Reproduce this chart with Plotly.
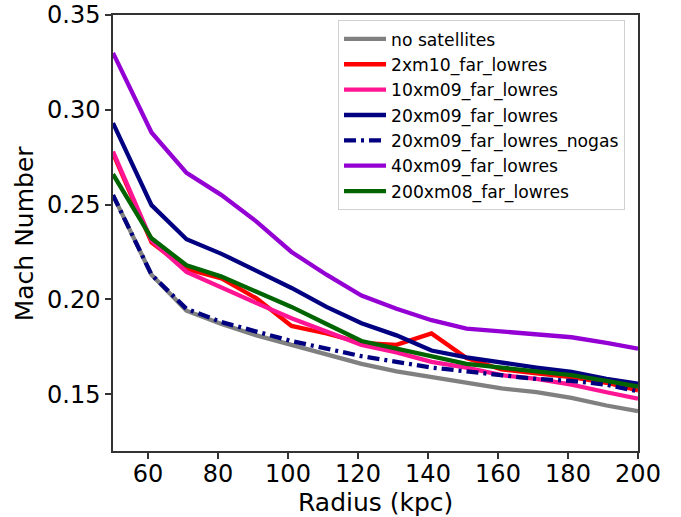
import plotly.graph_objects as go

radius = [50, 61, 71, 81, 91, 101, 111, 121, 131, 141, 151, 161, 171, 181, 191, 200]

no_sat = [0.255, 0.213, 0.194, 0.187, 0.181, 0.176, 0.171, 0.166, 0.162, 0.159, 0.156, 0.153, 0.151, 0.148, 0.144, 0.141]
m2xm10 = [0.277, 0.230, 0.216, 0.211, 0.2005, 0.186, 0.182, 0.177, 0.176, 0.182, 0.169, 0.163, 0.161, 0.159, 0.156, 0.152]
m10xm09 = [0.278, 0.231, 0.2145, 0.206, 0.198, 0.190, 0.183, 0.176, 0.172, 0.167, 0.164, 0.160, 0.158, 0.155, 0.151, 0.1476]
m20xm09 = [0.293, 0.2497, 0.2317, 0.224, 0.215, 0.206, 0.196, 0.1874, 0.181, 0.173, 0.1694, 0.1665, 0.164, 0.1617, 0.158, 0.1555]
m20xm09_nogas = [0.255, 0.213, 0.195, 0.188, 0.183, 0.178, 0.174, 0.170, 0.167, 0.164, 0.162, 0.160, 0.158, 0.157, 0.155, 0.1515]
m40xm09 = [0.330, 0.288, 0.2667, 0.255, 0.241, 0.225, 0.213, 0.202, 0.195, 0.189, 0.1846, 0.183, 0.1815, 0.180, 0.177, 0.174]
m200xm08 = [0.266, 0.2322, 0.218, 0.212, 0.204, 0.196, 0.187, 0.178, 0.174, 0.170, 0.166, 0.164, 0.162, 0.160, 0.157, 0.154]

series = [
    ("no satellites", no_sat, "#808080", "solid"),
    ("2xm10_far_lowres", m2xm10, "#FF0000", "solid"),
    ("10xm09_far_lowres", m10xm09, "#FF1493", "solid"),
    ("20xm09_far_lowres", m20xm09, "#000080", "solid"),
    ("20xm09_far_lowres_nogas", m20xm09_nogas, "#000080", "12px,5px,3px,5px"),
    ("40xm09_far_lowres", m40xm09, "#9400D3", "solid"),
    ("200xm08_far_lowres", m200xm08, "#006400", "solid"),
]

fig = go.Figure()
for name, vals, color, dash in series:
    fig.add_trace(go.Scatter(x=radius, y=vals, mode="lines", name=name,
                             line=dict(color=color, width=4.3, dash=dash)))

axis_common = dict(showline=True, linecolor="#333333", linewidth=1.5, mirror=True,
                   ticks="outside", ticklen=6, tickwidth=1.5, tickcolor="#333333",
                   showgrid=False, zeroline=False, automargin=False,
                   ticklabeloverflow="allow",
                   tickfont=dict(family="DejaVu Sans", size=24, color="black"))

title_font = dict(family="DejaVu Sans", size=25, color="black")

fig.update_layout(
    width=681, height=517,
    margin=dict(l=113, r=43, t=15, b=66),
    paper_bgcolor="white", plot_bgcolor="white",
    xaxis=dict(range=[50, 200], tickvals=[60, 80, 100, 120, 140, 160, 180, 200],
               ticklabelstandoff=-6, **axis_common),
    yaxis=dict(range=[0.12, 0.35], tickvals=[0.15, 0.20, 0.25, 0.30, 0.35], tickformat=".2f",
               **axis_common),
    legend=dict(x=0.4286, y=0.988, xanchor="left", yanchor="top",
                bgcolor="white", bordercolor="#d0d0d0", borderwidth=1,
                font=dict(family="DejaVu Sans", size=17.2, color="black"),
                itemwidth=42, tracegroupgap=0),
    annotations=[
        dict(text="Radius (kpc)", xref="paper", yref="paper", x=0.5, y=-0.117,
             xanchor="center", yanchor="middle", showarrow=False, font=title_font),
        dict(text="Mach Number", xref="paper", yref="paper", x=-0.169, y=0.5,
             xanchor="center", yanchor="middle", textangle=-90, showarrow=False, font=title_font),
    ],
    showlegend=True,
)

fig.write_html("out.html", config={"displayModeBar": False},
               post_script="document.body.style.margin='0';")
